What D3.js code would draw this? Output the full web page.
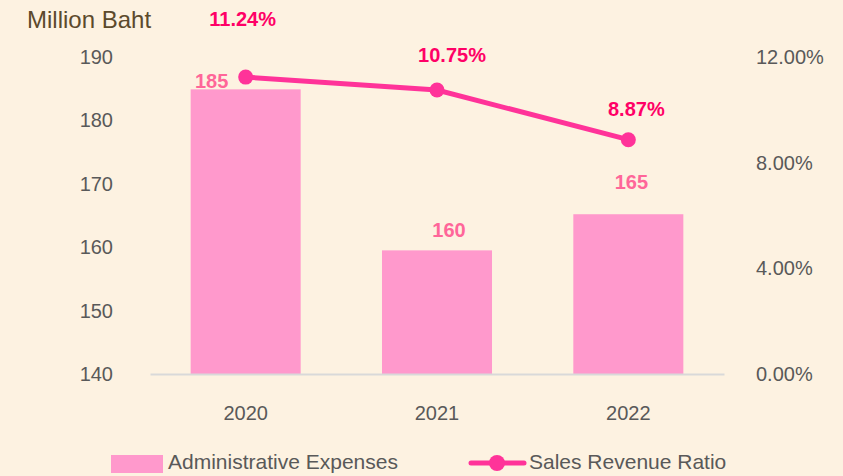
<!DOCTYPE html>
<html>
<head>
<meta charset="utf-8">
<script src="https://cdn.jsdelivr.net/npm/d3@7"></script>
<style>
  body { margin: 0; background: #fdf2e1; }
  svg { display: block; font-family: "Liberation Sans", Arial, sans-serif; }
</style>
</head>
<body>
<svg id="chart" width="843" height="476"></svg>
<script>
// chart data
var years = ['2020', '2021', '2022'];
var expenses = [184.9, 159.5, 165.2];
var ratio = [11.24, 10.75, 8.87];
var leftTicks = [140, 150, 160, 170, 180, 190];
var rightTicks = [0, 4, 8, 12];

// label nudges (px) to mimic the original placement
var barLabelDx = [-34, 12, 3];
var barLabelDy = [-1, -13, -25];
var ratioLabelDx = [-3, 15, 8];
var ratioLabelDy = [-51, -28, -24];

var svg = d3.select('#chart');
var margin = { top: 57, left: 150, right: 119, bottom: 102 };
var w = 843 - margin.left - margin.right,
	h = 476 - margin.top - margin.bottom;

var g = svg.append('g').attr('transform', 'translate(' + margin.left + ',' + margin.top + ')');

var x = d3.scaleBand().domain(years).range([0, w]).paddingInner(0.425).paddingOuter(0.2125);
var y = d3.scaleLinear().domain([140, 190]).range([h, 0]);
var y2 = d3.scaleLinear().domain([0, 12]).range([h, 0]);

var textCol = '#595959';

//left axis
var left = g.append('g').call(d3.axisLeft(y).tickValues(leftTicks).tickSize(0).tickPadding(37));
left.select('.domain').remove();
left.selectAll('text').attr('font-size', 20).attr('fill', textCol).attr('font-family', null);

//right axis
var right = g.append('g').attr('transform', 'translate(' + w + ',0)')
	.call(d3.axisRight(y2).tickValues(rightTicks).tickSize(0).tickPadding(32).tickFormat(function(d) { return d3.format('.2f')(d) + '%'; }));
right.select('.domain').remove();
right.selectAll('text').attr('font-size', 20).attr('fill', textCol).attr('font-family', null);

//bars
g.selectAll('.bar')
	.data(expenses)
	.enter().append('rect')
	.attr('class', 'bar')
	.attr('x', function(d, i) { return x(years[i]); })
	.attr('width', x.bandwidth())
	.attr('y', function(d) { return y(d); })
	.attr('height', function(d) { return h - y(d); })
	.attr('fill', '#ff99cc');

//bottom axis
var bottom = g.append('g').attr('transform', 'translate(0,' + h + ')')
	.call(d3.axisBottom(x).tickSize(0).tickPadding(32));
bottom.select('.domain').attr('stroke', '#d9d9d9').attr('stroke-width', 2);
bottom.selectAll('text').attr('font-size', 20).attr('fill', textCol).attr('font-family', null);

//bar labels
g.selectAll('.barLabel')
	.data(expenses)
	.enter().append('text')
	.attr('x', function(d, i) { return x(years[i]) + x.bandwidth() / 2 + barLabelDx[i]; })
	.attr('y', function(d, i) { return y(d) + barLabelDy[i]; })
	.attr('text-anchor', 'middle')
	.attr('font-size', 20).attr('font-weight', 'bold')
	.attr('fill', '#ff6699')
	.text(function(d) { return d3.format('.0f')(d); });

//ratio line
var line = d3.line()
	.x(function(d, i) { return x(years[i]) + x.bandwidth() / 2; })
	.y(function(d) { return y2(d); });

g.append('path').datum(ratio)
	.attr('d', line)
	.attr('fill', 'none')
	.attr('stroke', '#ff3399')
	.attr('stroke-width', 5)
	.attr('stroke-linecap', 'round');

g.selectAll('.dot')
	.data(ratio)
	.enter().append('circle')
	.attr('cx', function(d, i) { return x(years[i]) + x.bandwidth() / 2; })
	.attr('cy', function(d) { return y2(d); })
	.attr('r', 7.5)
	.attr('fill', '#ff3399');

g.selectAll('.ratioLabel')
	.data(ratio)
	.enter().append('text')
	.attr('x', function(d, i) { return x(years[i]) + x.bandwidth() / 2 + ratioLabelDx[i]; })
	.attr('y', function(d, i) { return y2(d) + ratioLabelDy[i]; })
	.attr('text-anchor', 'middle')
	.attr('font-size', 20).attr('font-weight', 'bold')
	.attr('fill', '#ff0066')
	.text(function(d) { return d3.format('.2f')(d) + '%'; });

//unit title
svg.append('text')
	.attr('x', 27).attr('y', 28)
	.attr('font-size', 24)
	.attr('fill', '#5c4a2c')
	.text('Million Baht');

//legend
var leg = svg.append('g').attr('transform', 'translate(0,463)');
leg.append('rect').attr('x', 111).attr('y', -8).attr('width', 52).attr('height', 18).attr('fill', '#ff99cc');
leg.append('text').attr('x', 168).attr('y', 6).attr('font-size', 21).attr('fill', textCol).text('Administrative Expenses');
leg.append('line').attr('x1', 471).attr('x2', 524).attr('y1', 0).attr('y2', 0)
	.attr('stroke', '#ff3399').attr('stroke-width', 5).attr('stroke-linecap', 'round');
leg.append('circle').attr('cx', 497).attr('cy', 0).attr('r', 8).attr('fill', '#ff3399');
leg.append('text').attr('x', 529).attr('y', 6).attr('font-size', 21).attr('fill', textCol).text('Sales Revenue Ratio');
</script>
</body>
</html>
